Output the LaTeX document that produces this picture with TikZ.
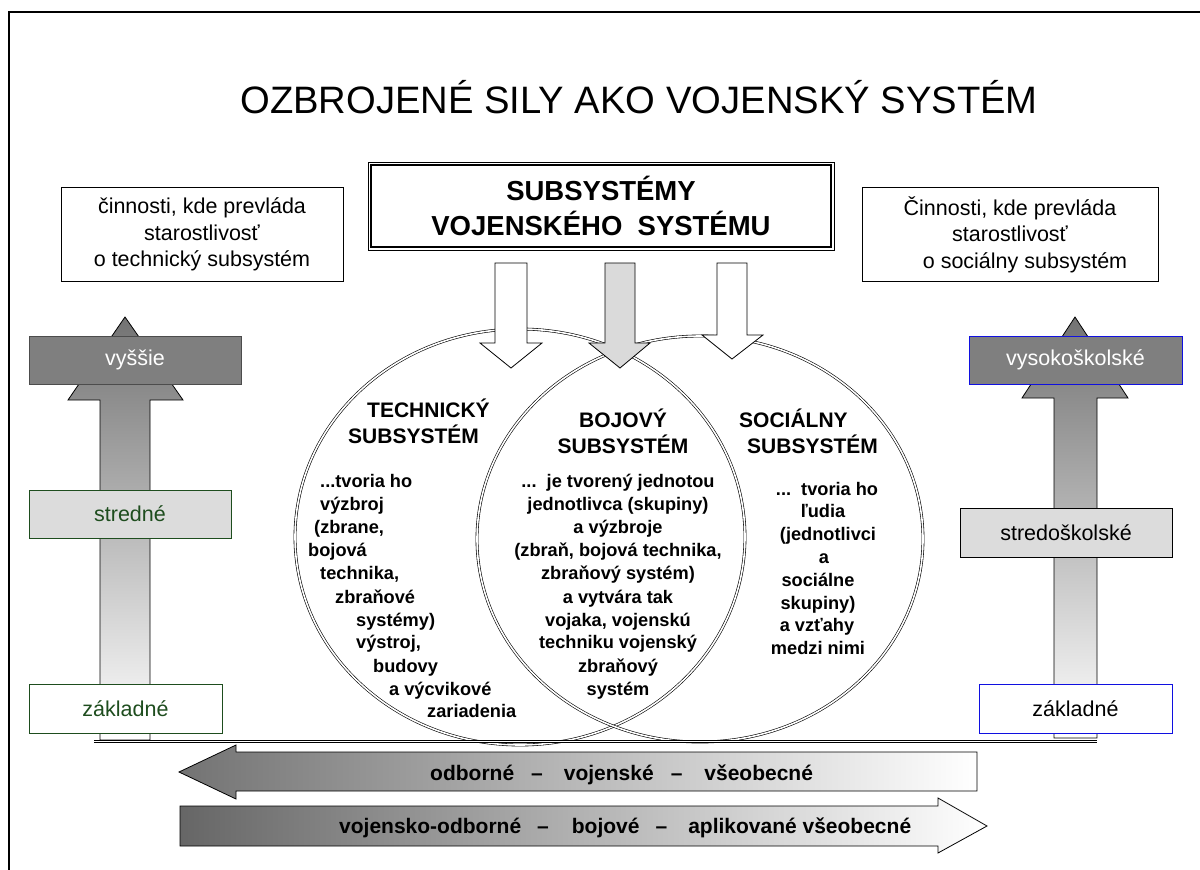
\documentclass[tikz,border=0pt]{standalone}
\usepackage{fontspec}
\setmainfont{Liberation Sans}
\newfontfamily\bodyfont{Liberation Sans}
\usetikzlibrary{shapes.geometric}
\definecolor{dkgreen}{HTML}{1E4D1E}
\definecolor{boxgray}{HTML}{7F7F7F}
\definecolor{ltgray}{HTML}{DCDCDC}
\definecolor{arrgray}{HTML}{DADADA}
\definecolor{lblue}{HTML}{1010E0}
\begin{document}
\begin{tikzpicture}[x=1pt,y=-1pt,
  lvl/.style={draw, line width=0.8pt, minimum height=48pt, inner sep=0pt, outer sep=0pt,
    font=\bodyfont\fontsize{21.5}{23}\selectfont},
  sidebox/.style={draw, line width=0.8pt, align=center, inner sep=0pt, outer sep=0pt,
    minimum width=282pt, minimum height=94pt, font=\bodyfont\fontsize{21.5}{26.5}\selectfont},
  circhead/.style={inner sep=0pt, font=\bodyfont\bfseries\fontsize{21}{26}\selectfont},
  circtxt/.style={inner sep=0pt, font=\bodyfont\bfseries\fontsize{18.2}{23}\selectfont},
  vennring/.style={double, double distance=1.6pt, line width=0.6pt},
  downarrow/.style={draw, line width=0.8pt},
  bigarrow/.style={draw, line width=0.8pt},
  arrtxt/.style={inner sep=0pt, anchor=base west, font=\bodyfont\bfseries\fontsize{21}{23}\selectfont}
]
\useasboundingbox (0,0) rectangle (1200,870);
% frame
\draw[line width=1.3pt] (9,875) -- (9,12) -- (1205,12);
% title
\node (title) [anchor=base, inner sep=0pt, font=\fontsize{38.2}{45}\selectfont] at (639,113)
  {OZBROJENÉ SILY AKO VOJENSKÝ SYSTÉM};
% side boxes
\node (lbox) [sidebox] at (202,234.5) {činnosti, kde prevláda\\starostlivosť\\o technický subsystém};
\node (rbox) [sidebox, minimum width=296pt] at (1010,234.5) {Činnosti, kde prevláda\\starostlivosť\\\hspace*{30pt}o sociálny subsystém};
% header box
\node (hdr) [draw, line width=0.7pt, minimum width=466pt, minimum height=88pt, inner sep=0pt,
  align=center, font=\bodyfont\bfseries\fontsize{27.5}{35}\selectfont] at (601,206)
  {SUBSYSTÉMY\\VOJENSKÉHO~~SYSTÉMU};
\draw[line width=1.4pt] ([shift={(3.5,3.5)}]hdr.north west) rectangle ([shift={(-3.5,-3.5)}]hdr.south east);
% ellipses
\draw[vennring] (520,537) ellipse [x radius=225, y radius=208];
\draw[vennring] (700,539) ellipse [x radius=223, y radius=203];
% down arrows
\filldraw[downarrow, fill=white] (495,263) -- (527,263) -- (527,343) -- (542,343) -- (511,368) -- (480,343) -- (495,343) -- cycle;
\filldraw[downarrow, fill=arrgray] (605,263) -- (635,263) -- (635,343) -- (650,343) -- (620,368) -- (589,343) -- (605,343) -- cycle;
\filldraw[downarrow, fill=white] (717,263) -- (747,263) -- (747,335) -- (763,335) -- (732,359) -- (702,335) -- (717,335) -- cycle;
% vertical arrows
\shadedraw[bigarrow, top color=black!55, bottom color=white] (125,317) -- (183,400) -- (150,400) -- (150,740) -- (100,740) -- (100,400) -- (68,400) -- cycle;
\shadedraw[bigarrow, top color=black!55, bottom color=white] (1075,317) -- (1128,398) -- (1097,398) -- (1097,738) -- (1054,738) -- (1054,398) -- (1022,398) -- cycle;
% level boxes
\node (vys) [lvl, fill=boxgray, draw=black!70, text=white, minimum width=212pt] at (135,360) {vyššie};
\node (str) [lvl, fill=ltgray, draw=dkgreen, text=dkgreen, minimum width=202pt] at (130,514) {stredné};
\node (zakl) [lvl, fill=white, draw=dkgreen, text=dkgreen, minimum width=193pt, minimum height=49pt] at (125.5,708.5) {základné};
\node (vsk) [lvl, fill=boxgray, draw=lblue, text=white, minimum width=213pt] at (1075.5,360) {vysokoškolské};
\node (ssk) [lvl, fill=ltgray, draw=black, minimum width=212pt, minimum height=49pt] at (1066,532.5) {stredoškolské};
\node (zakr) [lvl, fill=white, draw=lblue, minimum width=193pt, minimum height=49pt] at (1075.5,708.5) {základné};
% bottom double line
\draw[double, double distance=1.5pt, line width=0.7pt] (94,741.5) -- (1097,741.5);
% horizontal arrows
\shadedraw[bigarrow, left color=black!55, right color=white] (179,772) -- (236,745) -- (236,752) -- (977,752) -- (977,791) -- (236,791) -- (236,799) -- cycle;
\shadedraw[bigarrow, left color=black!60, right color=white] (180,806) -- (938,806) -- (938,798) -- (987,826) -- (938,853) -- (938,846) -- (180,846) -- cycle;
\node (a1) [arrtxt] at (430,780) {odborné\hspace{17pt}–\hspace{21pt}vojenské\hspace{17pt}–\hspace{22pt}všeobecné};
\node (a2) [arrtxt] at (339,833) {vojensko-odborné\hspace{16pt}–\hspace{23pt}bojové\hspace{16pt}–\hspace{21pt}aplikované všeobecné};
% circle headings
\node (th1) [circhead, anchor=base west] at (367,417) {TECHNICKÝ};
\node (th2) [circhead, anchor=base west] at (348,443) {SUBSYSTÉM};
\node (bh1) [circhead, anchor=base] at (623,427) {BOJOVÝ};
\node (bh2) [circhead, anchor=base] at (623,453) {SUBSYSTÉM};
\node (sh1) [circhead, anchor=base west] at (739,427) {SOCIÁLNY};
\node (sh2) [circhead, anchor=base west] at (747,453) {SUBSYSTÉM};
% circle texts
\foreach \txt/\xx/\yy [count=\i] in {{...tvoria ho}/320/487, {výzbroj}/320/510, {(zbrane,}/314/533,
  {bojová}/308/556, {technika,}/320/579, {zbraňové}/335/603, {systémy)}/356/626, {výstroj,}/356/648,
  {budovy}/373/672, {a výcvikové}/389/695, {zariadenia}/427/717}
  \node (tl\i) [circtxt, anchor=base west] at (\xx,\yy) {\txt};
\foreach \txt/\yy [count=\i] in {{...~~je tvorený jednotou}/487, {jednotlivca (skupiny)}/510, {a výzbroje}/533,
  {(zbraň, bojová technika,}/556, {zbraňový systém)}/579, {a vytvára tak}/603, {vojaka, vojenskú}/626,
  {techniku vojenský}/648, {zbraňový}/672, {systém}/695}
  \node (bl\i) [circtxt, anchor=base] at (618,\yy) {\txt};
\foreach \txt/\xx/\yy [count=\i] in {{...~~tvoria ho}/827/495, {ľudia}/823/517, {(jednotlivci}/828/540,
  {a}/824/563, {sociálne}/818/586, {skupiny)}/818/609, {a vzťahy}/817/631, {medzi nimi}/818/654}
  \node (sl\i) [circtxt, anchor=base] at (\xx,\yy) {\txt};
\end{tikzpicture}
\end{document}
